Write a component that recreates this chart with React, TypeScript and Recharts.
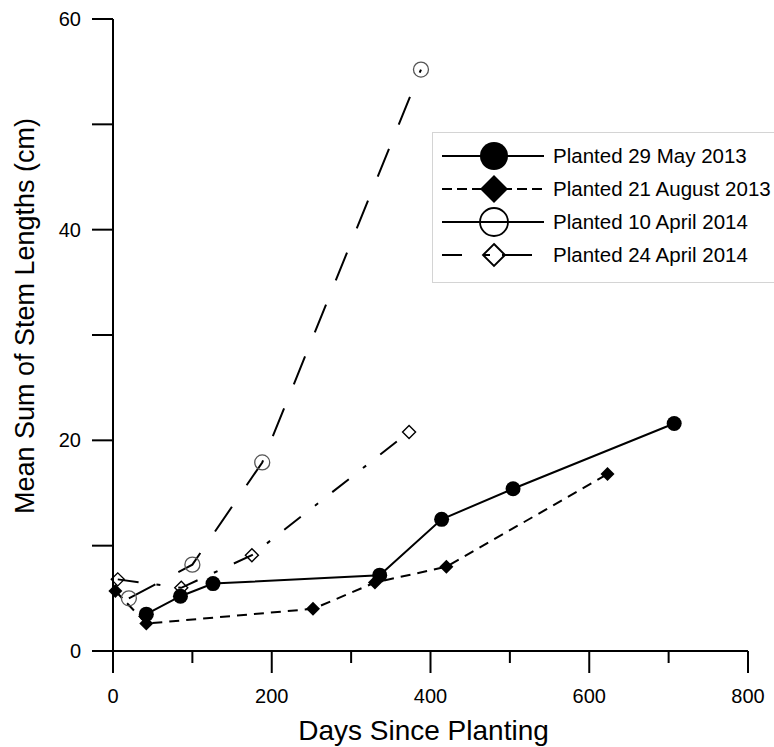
import React from 'react';
import { LineChart, Line, XAxis, YAxis, Label } from 'recharts';

// days since planting / mean sum of stem lengths (cm)
const mayDays = [42, 85, 126, 336, 414, 504, 707];
const mayValues = [3.5, 5.2, 6.4, 7.2, 12.5, 15.4, 21.6];

const augDays = [3, 42, 252, 330, 420, 623];
const augValues = [5.7, 2.6, 4.0, 6.5, 8.0, 16.8];

const apr10Days = [20, 100, 188, 388];
const apr10Values = [5.0, 8.2, 17.9, 55.2];

const apr24Days = [6, 86, 175, 373];
const apr24Values = [6.8, 6.0, 9.1, 20.8];

const seriesNames = [
  'Planted 29 May 2013',
  'Planted 21 August 2013',
  'Planted 10 April 2014',
  'Planted 24 April 2014',
];

const xTicks = [0, 100, 200, 300, 400, 500, 600, 700, 800];
const yTicks = [0, 10, 20, 30, 40, 50, 60];

const toPoints = (days: number[], values: number[]) =>
  days.map((d, i) => ({ day: d, value: values[i] }));

const FONT = '"Liberation Sans", Arial, sans-serif';

type Marker = 'circle' | 'diamond' | 'openCircle' | 'openDiamond';

const drawMarker = (kind: Marker, cx: number, cy: number, s: number, key?: string, stroke = '#555', sw = 1.3) => {
  if (kind === 'circle') return <circle key={key} cx={cx} cy={cy} r={s} fill="#000" />;
  if (kind === 'openCircle')
    return <circle key={key} cx={cx} cy={cy} r={s} fill="none" stroke={stroke} strokeWidth={sw} />;
  const pts = `${cx},${cy - s} ${cx + s},${cy} ${cx},${cy + s} ${cx - s},${cy}`;
  if (kind === 'diamond') return <polygon key={key} points={pts} fill="#000" />;
  return <polygon key={key} points={pts} fill="none" stroke="#000" strokeWidth={sw + 0.1} />;
};

const series = [
  { name: seriesNames[0], data: toPoints(mayDays, mayValues), dash: undefined, marker: 'circle' as Marker, size: 7.5 },
  { name: seriesNames[1], data: toPoints(augDays, augValues), dash: '10 7', marker: 'diamond' as Marker, size: 7 },
  { name: seriesNames[2], data: toPoints(apr10Days, apr10Values), dash: '30 26', marker: 'openCircle' as Marker, size: 7.5 },
  { name: seriesNames[3], data: toPoints(apr24Days, apr24Values), dash: '21 18 4 18', marker: 'openDiamond' as Marker, size: 6.5 },
];

const legendMarkers = [
  { dash: undefined, size: 14 },
  { dash: '10 5', size: 14 },
  { dash: undefined, size: 14 },
  { dash: '20 21 7 12 30 20', size: 11 },
];

const XTick = (props: any) => {
  const { x, y, payload } = props;
  const major = payload.value % 200 === 0;
  return (
    <g>
      <line x1={x} y1={y} x2={x} y2={y + (major ? 22 : 12)} stroke="#000" strokeWidth={2} />
      {major && (
        <text x={x} y={y + 52} textAnchor="middle" fontSize={20} fontFamily={FONT} fill="#000">
          {payload.value}
        </text>
      )}
    </g>
  );
};

const YTick = (props: any) => {
  const { x, y, payload } = props;
  const major = payload.value % 20 === 0;
  return (
    <g>
      <line x1={x} y1={y} x2={x - 21} y2={y} stroke="#000" strokeWidth={2} />
      {major && (
        <text x={x - 32} y={y + 7} textAnchor="end" fontSize={20} fontFamily={FONT} fill="#000">
          {payload.value}
        </text>
      )}
    </g>
  );
};

const Legend = () => (
  <svg
    width={342}
    height={151}
    style={{ position: 'absolute', left: 432, top: 132 }}
  >
    <rect x={0.5} y={0.5} width={360} height={150} fill="#fff" stroke="#d4d4d4" strokeWidth={1} />
    {series.map((s, i) => {
      const cy = 24 + i * 33;
      const lm = legendMarkers[i];
      return (
        <g key={s.name}>
          <line x1={10} y1={cy} x2={i === 3 ? 100 : 112} y2={cy} stroke="#000" strokeWidth={2} strokeDasharray={lm.dash} />
          {drawMarker(s.marker, 62, cy, lm.size, undefined, '#000', 1.8)}
          <text x={121} y={cy + 7} fontSize={20.5} fontFamily={FONT} fill="#000">
            {s.name}
          </text>
        </g>
      );
    })}
  </svg>
);

const App: React.FC = () => {
  return (
    <div style={{ position: 'absolute', left: 0, top: 0, width: 774, height: 747, overflow: 'hidden', background: '#fff' }}>
      <LineChart width={774} height={747} margin={{ top: 19, right: 26, bottom: 0, left: 0 }}>
        <XAxis
          dataKey="day"
          type="number"
          domain={[0, 800]}
          ticks={xTicks}
          interval={0}
          height={96}
          tickSize={0}
          tickMargin={0}
          tick={<XTick />}
          tickLine={false}
          axisLine={{ stroke: '#000', strokeWidth: 2 }}
        >
          <Label
            content={(p: any) => {
              const vb = p.viewBox;
              return (
                <text x={vb.x + vb.width / 2 - 7} y={vb.y + 89} textAnchor="middle" fontSize={28} fontFamily={FONT} fill="#000">
                  Days Since Planting
                </text>
              );
            }}
          />
        </XAxis>
        <YAxis
          dataKey="value"
          type="number"
          domain={[0, 60]}
          ticks={yTicks}
          interval={0}
          width={113}
          tickSize={0}
          tickMargin={0}
          tick={<YTick />}
          tickLine={false}
          axisLine={{ stroke: '#000', strokeWidth: 2 }}
        >
          <Label
            content={(p: any) => {
              const vb = p.viewBox;
              const cx = 34;
              const cy = vb.y + vb.height / 2 - 19;
              return (
                <text x={cx} y={cy} transform={`rotate(-90, ${cx}, ${cy})`} textAnchor="middle" fontSize={27} fontFamily={FONT} fill="#000">
                  Mean Sum of Stem Lengths (cm)
                </text>
              );
            }}
          />
        </YAxis>
        {series.map((s) => (
          <Line
            key={s.name}
            name={s.name}
            data={s.data}
            dataKey="value"
            type="linear"
            stroke="#000"
            strokeWidth={2}
            strokeDasharray={s.dash}
            isAnimationActive={false}
            activeDot={false}
            dot={(p: any) => drawMarker(s.marker, p.cx, p.cy, s.size, `${s.name}-${p.index}`)}
          />
        ))}
      </LineChart>
      <Legend />
    </div>
  );
};

export default App;
